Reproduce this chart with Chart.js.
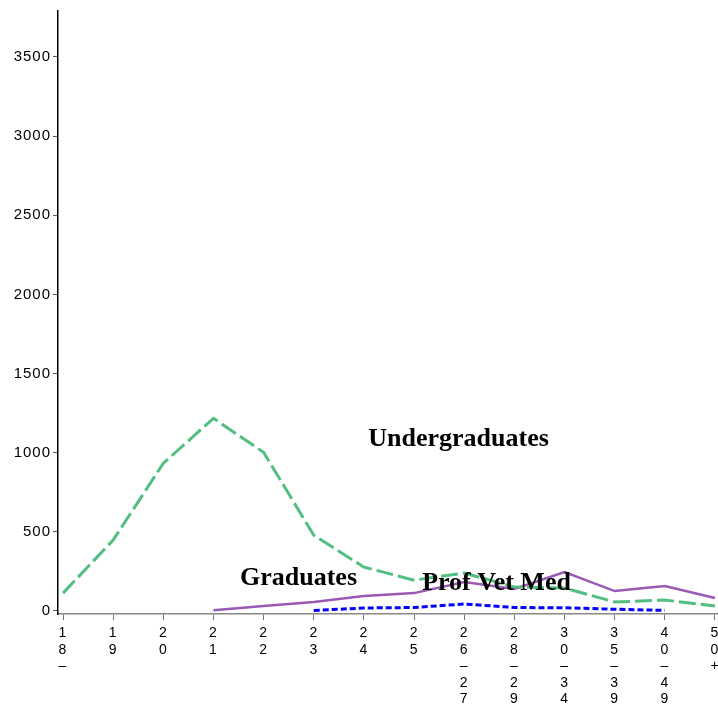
<!DOCTYPE html>
<html><head><meta charset="utf-8">
<script src="https://cdn.jsdelivr.net/npm/chart.js@4/dist/chart.umd.min.js"></script>
<style>
html,body{margin:0;padding:0;background:#fff;overflow:hidden}
#wrap{width:718px;height:704px;overflow:hidden;position:relative;background:#fff}
#c{position:absolute;left:0;top:0}
</style></head>
<body><div id="wrap"><canvas id="c" width="800" height="704" style="width:800px;height:704px"></canvas></div>
<script>
const categories = ["18–","19","20","21","22","23","24","25","26–27","28–29","30–34","35–39","40–49","50+"];
const undergraduates = [113,448,933,1217,1002,479,277,195,240,151,145,57,69,32];
const graduates = [null,null,null,5,32,57,95,113,183,139,246,126,158,82];
const profVetMed = [null,null,null,null,null,3,19,22,44,22,20,11,4,null];
const yTicks = [0,500,1000,1500,2000,2500,3000,3500];
const seriesLabels = ["Undergraduates","Graduates","Prof Vet Med"];
const labelPosX = [7.886, 4.696, 8.644];
const labelPosY = [1040, 164, 132];

const toPts = arr => arr.map((v,i)=>({x:i,y:v}));

const spacingPlugin = {
  id:'spacing',
  beforeDraw(chart){ chart.ctx.letterSpacing = '1px'; },
  beforeDatasetsDraw(chart){ chart.ctx.letterSpacing = '0px'; }
};

const textPlugin = {
  id:'seriesText',
  afterDatasetsDraw(chart){
    const {ctx, scales:{x,y}} = chart;
    ctx.save();
    ctx.letterSpacing = '0px';
    ctx.font = 'bold 26px "Liberation Serif", "Times New Roman", serif';
    ctx.fillStyle = '#000';
    ctx.textAlign = 'center';
    ctx.textBaseline = 'alphabetic';
    seriesLabels.forEach((t,i)=>{
      ctx.fillText(t, x.getPixelForValue(labelPosX[i]), y.getPixelForValue(labelPosY[i]));
    });
    ctx.restore();
  }
};

new Chart(document.getElementById('c'), {
  type:'line',
  data:{
    datasets:[
      {label:seriesLabels[0], data:toPts(undergraduates), borderColor:'#52BE80', borderWidth:3, borderDash:[17,5], pointRadius:0, tension:0, fill:false},
      {label:seriesLabels[1], data:toPts(graduates), borderColor:'#9B59B6', borderWidth:2.5, pointRadius:0, tension:0, fill:false},
      {label:seriesLabels[2], data:toPts(profVetMed), borderColor:'#0000FF', borderWidth:3, borderDash:[6,3], pointRadius:0, tension:0, fill:false}
    ]
  },
  options:{
    responsive:false,
    animation:false,
    devicePixelRatio:1,
    layout:{padding:{top:10,right:0,left:0,bottom:0}},
    plugins:{legend:{display:false}, tooltip:{enabled:false}},
    scales:{
      x:{
        type:'linear', min:-0.1, max:14.695,
        afterBuildTicks(s){ s.ticks = categories.map((c,i)=>({value:i})); },
        afterFit(s){ s.height = 90; },
        grid:{drawOnChartArea:false, drawTicks:true, tickLength:6, color:'#777'},
        border:{display:true, color:'#888', width:1.5},
        ticks:{
          autoSkip:false, maxRotation:0, minRotation:0, padding:5, color:'#000',
          font:{family:'"Liberation Sans", Arial, sans-serif', size:14, lineHeight:1.18},
          callback(v){ const c = categories[v]; return c ? Array.from(c) : ''; }
        }
      },
      y:{
        type:'linear', min:-19, max:3790,
        afterBuildTicks(s){ s.ticks = yTicks.map(v=>({value:v})); },
        afterFit(s){ s.width = 58; },
        grid:{drawOnChartArea:false, drawTicks:true, tickLength:5, color:'#555'},
        border:{display:true, color:'#000', width:1.5},
        ticks:{
          padding:2, color:'#000',
          font:{family:'"Liberation Sans", Arial, sans-serif', size:15},
          callback(v){ return String(v); }
        }
      }
    }
  },
  plugins:[spacingPlugin, textPlugin]
});
</script>
</body></html>
